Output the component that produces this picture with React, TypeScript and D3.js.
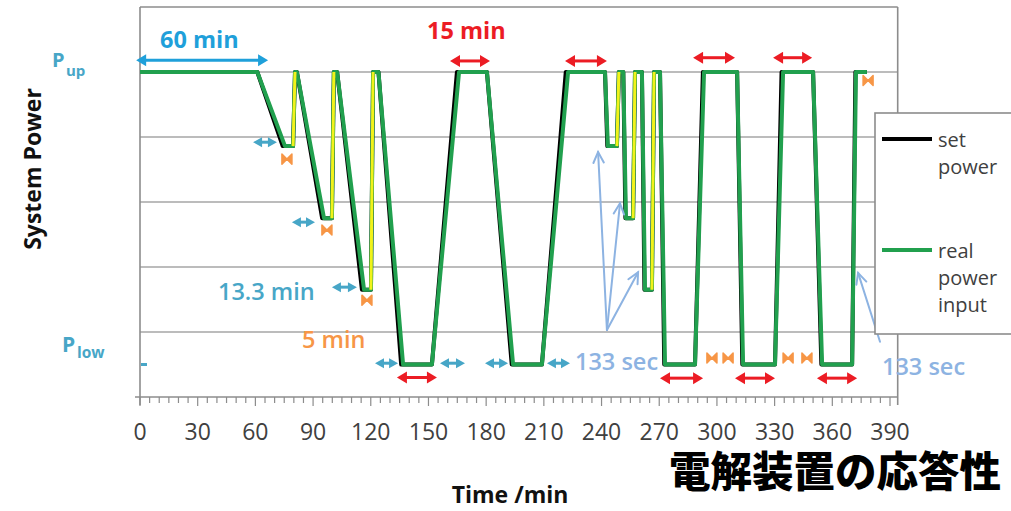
import React from 'react';
import * as d3 from 'd3';

// ---- data (time in min, power in grid units; P_up = 5, P_low = 0.5) ----
const realPower: [number, number][] = [
  [0, 5], [61, 5], [75.4, 3.86], [79.6, 3.86], [80.6, 5], [81.6, 5],
  [95.7, 2.75], [99.8, 2.75], [100.8, 5], [102.5, 5], [116.5, 1.65], [120.1, 1.65],
  [121.2, 5], [124, 5], [136.8, 0.5], [151.8, 0.5], [165.9, 5], [180.4, 5],
  [194, 0.5], [209, 0.5], [222.6, 5], [241.8, 5], [243.3, 3.86], [248, 3.86],
  [249, 5], [251.3, 5], [252.7, 2.75], [256.4, 2.75], [257.4, 5], [261, 5],
  [262.6, 1.65], [266.2, 1.65], [267.3, 5], [270.4, 5], [273, 0.5], [288.6, 0.5],
  [293.3, 5], [310.5, 5], [313.6, 0.5], [330.2, 0.5], [334.4, 5], [350, 5],
  [354.7, 0.5], [370.3, 0.5], [372.3, 5], [378, 5],
];
const setPower: [number, number][] = [
  [0, 5], [61, 5], [74.2, 3.86], [79.6, 3.86], [80.6, 5], [81.6, 5],
  [94.7, 2.75], [99.8, 2.75], [100.8, 5], [102.5, 5], [115.4, 1.65], [120.1, 1.65],
  [121.2, 5], [124, 5], [135.8, 0.5], [151.8, 0.5], [164.8, 5], [180.4, 5],
  [193.3, 0.5], [209, 0.5], [221.4, 5], [241.8, 5], [243, 3.86], [248, 3.86],
  [249, 5], [251.3, 5], [252.4, 2.75], [256.4, 2.75], [257.4, 5], [261, 5],
  [262.3, 1.65], [266.2, 1.65], [267.3, 5], [270.4, 5], [272.6, 0.5], [288.6, 0.5],
  [292.7, 5], [310.5, 5], [313.2, 0.5], [330.2, 0.5], [333.6, 5], [350, 5],
  [354.3, 0.5], [370.3, 0.5], [372, 5], [378, 5],
];
const jumpRises: [number, number, number, number][] = [
  [79.6, 3.86, 80.6, 5], [99.8, 2.75, 100.8, 5], [120.1, 1.65, 121.2, 5],
  [248, 3.86, 249, 5], [256.4, 2.75, 257.4, 5], [266.2, 1.65, 267.3, 5],
];
const xTickLabels = [0, 30, 60, 90, 120, 150, 180, 210, 240, 270, 300, 330, 360, 390];
const gridValues = [1, 2, 3, 4, 5];
const legendItems = [
  { lines: ['set', 'power'], color: '#000000' },
  { lines: ['real', 'power', 'input'], color: '#21a04e' },
];
// annotations in data units
const redArrows: [number, number, number][] = [
  [161.2, 182, 5.17], [221, 242.8, 5.17], [287.6, 309.4, 5.22], [329.2, 349.5, 5.22],
  [133.6, 154.4, 0.3], [270.4, 292.8, 0.29], [309.4, 330.2, 0.29], [352, 372.9, 0.29],
];
const tealArrows: [number, number, number][] = [
  [58.8, 71.2, 3.92], [79, 91, 2.69], [99.8, 112.8, 1.69],
  [122.2, 134.2, 0.52], [156, 169, 0.52], [179.4, 191.4, 0.52], [211.6, 223.6, 0.52],
];
const bowties: [number, number][] = [
  [76.4, 3.66], [97.2, 2.57], [118, 1.49], [378.6, 4.87],
  [297.4, 0.6], [305.8, 0.6], [337, 0.6], [346.8, 0.6],
];
const pointerArrows: [number, number, number, number][] = [
  [242.8, 1.03, 238.2, 3.77], [242.8, 1.03, 249.6, 2.98], [242.8, 1.03, 259, 1.92],
  [384.8, 0.85, 373.4, 1.91],
];
const sixtyArrow: [number, number, number] = [-2, 66.6, 5.18];

const W = 1011;
const H = 511;
const x = d3.scaleLinear().domain([0, 394]).range([140, 897.7]);
const y = d3.scaleLinear().domain([0, 6]).range([397, 7]);

const FONT = '"Open Sans", "Noto Sans", sans-serif';

function dblArrow(x1: number, x2: number, yy: number, hl: number, hw: number) {
  return `M${x1},${yy} L${x1 + hl},${yy - hw} L${x1 + hl},${yy + hw} Z M${x2},${yy} L${x2 - hl},${yy - hw} L${x2 - hl},${yy + hw} Z`;
}

export default function App() {
  const line = d3.line<[number, number]>().x((d) => x(d[0])).y((d) => y(d[1]));
  const minorTicks = d3.range(0, 395, 5);

  return (
    <svg width={W} height={H} style={{ position: 'absolute', left: 0, top: 0, background: '#fff' }}
      xmlns="http://www.w3.org/2000/svg">
      <rect x={0} y={0} width={W} height={H} fill="#fff" />
      {/* grid */}
      {gridValues.map((g) => (
        <line key={g} x1={x(0)} x2={x(394)} y1={y(g)} y2={y(g)} stroke="#a6a6a6" strokeWidth={1.3} />
      ))}
      {/* frame */}
      <line x1={x(0)} x2={x(394)} y1={y(6)} y2={y(6)} stroke="#8c8c8c" strokeWidth={1.6} />
      <line x1={x(394)} x2={x(394)} y1={y(6)} y2={y(0) + 8} stroke="#8c8c8c" strokeWidth={1.6} />
      <line x1={x(0)} x2={x(0)} y1={y(6)} y2={y(0) + 8} stroke="#8c8c8c" strokeWidth={1.6} />
      <line x1={x(0) - 5} x2={x(394)} y1={y(0)} y2={y(0)} stroke="#8c8c8c" strokeWidth={1.6} />
      {minorTicks.map((t) => (
        <line key={t} x1={x(t)} x2={x(t)} y1={y(0)} y2={y(0) + (t % 30 === 0 ? 9 : 6)}
          stroke="#8c8c8c" strokeWidth={1.2} />
      ))}
      {xTickLabels.map((t) => (
        <text key={t} x={x(t)} y={440} textAnchor="middle" fontFamily={FONT} fontSize={23} fill="#404040">{t}</text>
      ))}

      {/* series */}
      <path d={line(setPower) || ''} fill="none" stroke="#000" strokeWidth={4} strokeLinejoin="round" />
      <path d={line(realPower) || ''} fill="none" stroke="#21a04e" strokeWidth={4} strokeLinejoin="round" />
      {jumpRises.map((r, i) => (
        <line key={i} x1={x(r[0])} y1={y(r[1])} x2={x(r[2])} y2={y(r[3])} stroke="#f2f21a" strokeWidth={3} />
      ))}

      {/* annotations */}
      <line x1={x(sixtyArrow[0]) + 9} x2={x(sixtyArrow[1]) - 9} y1={y(sixtyArrow[2])} y2={y(sixtyArrow[2])}
        stroke="#1fa0da" strokeWidth={3} />
      <path d={dblArrow(x(sixtyArrow[0]), x(sixtyArrow[1]), y(sixtyArrow[2]), 10, 6)} fill="#1fa0da" />
      {redArrows.map((a, i) => (
        <g key={i}>
          <line x1={x(a[0]) + 8} x2={x(a[1]) - 8} y1={y(a[2])} y2={y(a[2])} stroke="#ec1c24" strokeWidth={3} />
          <path d={dblArrow(x(a[0]), x(a[1]), y(a[2]), 10, 6)} fill="#ec1c24" />
        </g>
      ))}
      {tealArrows.map((a, i) => (
        <g key={i}>
          <line x1={x(a[0]) + 6} x2={x(a[1]) - 6} y1={y(a[2])} y2={y(a[2])} stroke="#47a6c7" strokeWidth={3} />
          <path d={dblArrow(x(a[0]), x(a[1]), y(a[2]), 9, 5)} fill="#47a6c7" />
        </g>
      ))}
      {bowties.map((b, i) => {
        const cx = x(b[0]);
        const cy = y(b[1]);
        return (
          <path key={i} d={`M${cx - 5},${cy - 5} L${cx},${cy} L${cx - 5},${cy + 5} Z M${cx + 5},${cy - 5} L${cx},${cy} L${cx + 5},${cy + 5} Z`}
            fill="#f79646" stroke="#f79646" strokeWidth={1.5} strokeLinejoin="round" />
        );
      })}
      {pointerArrows.map((p, i) => {
        const x1 = x(p[0]);
        const y1 = y(p[1]);
        const x2 = x(p[2]);
        const y2 = y(p[3]);
        const ang = Math.atan2(y2 - y1, x2 - x1);
        const L = 12;
        const a1 = ang + Math.PI - 0.45;
        const a2 = ang + Math.PI + 0.45;
        return (
          <g key={i} stroke="#8db3e2" strokeWidth={2} fill="none" strokeLinecap="round">
            <line x1={x1} y1={y1} x2={x2} y2={y2} />
            <path d={`M${x2 + L * Math.cos(a1)},${y2 + L * Math.sin(a1)} L${x2},${y2} L${x2 + L * Math.cos(a2)},${y2 + L * Math.sin(a2)}`} />
          </g>
        );
      })}
      <line x1={x(0) + 1} x2={x(0) + 7} y1={y(0.5)} y2={y(0.5)} stroke="#47a6c7" strokeWidth={3} />

      {/* annotation texts */}
      <text x={160} y={48} fontFamily={FONT} fontSize={23.5} fontWeight={700} fill="#1fa0da">60 min</text>
      <text x={427} y={39} fontFamily={FONT} fontSize={23.5} fontWeight={700} fill="#ec1c24">15 min</text>
      <text x={218} y={300} fontFamily={FONT} fontSize={23.5} fontWeight={600} fill="#47a6c7">13.3 min</text>
      <text x={302} y={348} fontFamily={FONT} fontSize={23.5} fontWeight={600} fill="#f79646">5 min</text>
      <text x={575} y={370} fontFamily={FONT} fontSize={23.5} fontWeight={600} fill="#8db3e2">133 sec</text>
      <text x={882} y={375} fontFamily={FONT} fontSize={23.5} fontWeight={600} fill="#8db3e2">133 sec</text>

      {/* y labels */}
      <text x={52} y={67} fontFamily={FONT} fontSize={20} fontWeight={700} fill="#47a6c7">P</text>
      <text x={66} y={76} fontFamily={FONT} fontSize={15} fontWeight={700} fill="#47a6c7">up</text>
      <text x={62} y={352} fontFamily={FONT} fontSize={21} fontWeight={700} fill="#47a6c7">P</text>
      <text x={77} y={358} fontFamily={FONT} fontSize={15.5} fontWeight={700} fill="#47a6c7">low</text>
      <text transform="translate(41,169) rotate(-90)" textAnchor="middle" fontFamily={FONT} fontSize={23}
        fontWeight={700} fill="#111">System Power</text>
      <text x={510} y={503} textAnchor="middle" fontFamily={FONT} fontSize={23} fontWeight={700} fill="#111">Time /min</text>

      {/* legend */}
      <rect x={875} y={113} width={160} height={221} fill="#fff" stroke="#8c8c8c" strokeWidth={1.6} />
      {legendItems.map((it, i) => {
        const top = i === 0 ? 139 : 250;
        return (
          <g key={i}>
            <line x1={882} x2={932} y1={top} y2={top} stroke={it.color} strokeWidth={4} />
            {it.lines.map((s, j) => (
              <text key={j} x={938} y={top + 8 + j * 27} fontFamily={FONT} fontSize={20} fill="#404040">{s}</text>
            ))}
          </g>
        );
      })}

      {/* title */}
      <text x={669} y={487} fontFamily='"Noto Sans CJK JP", sans-serif' fontSize={41.5} fontWeight={900} fill="#000">電解装置の応答性</text>
    </svg>
  );
}
